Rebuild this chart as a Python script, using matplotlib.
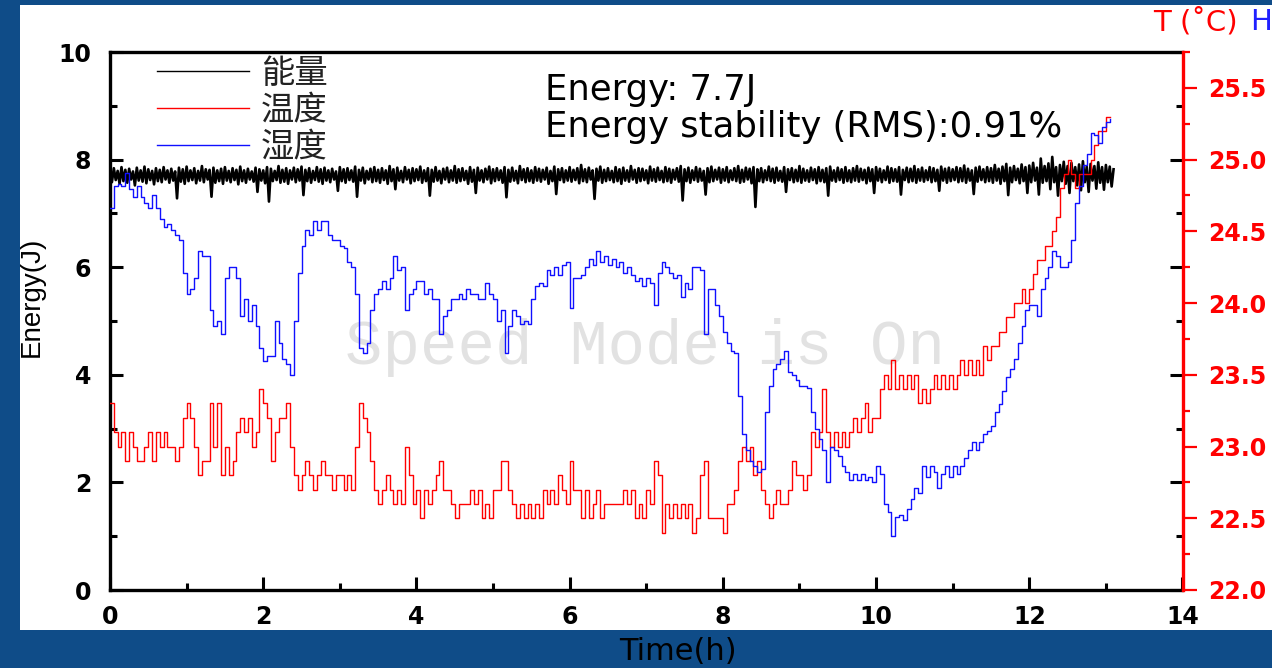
import numpy as np
import matplotlib
matplotlib.use("Agg")
import matplotlib.pyplot as plt
from matplotlib.patches import Rectangle
from matplotlib.ticker import MultipleLocator

# ---------------------------------------------------------------- data
# laser pulse energy (J), logged every 0.025 h
energy_dt = 0.025
energy_j = [
    7.80, 7.58, 7.84, 7.62, 7.79, 7.55, 7.86, 7.60, 7.81, 7.57, 7.83, 7.63, 7.78, 7.52, 7.85, 7.61, 7.80, 7.59, 7.87, 7.56,
    7.82, 7.62, 7.79, 7.54, 7.84, 7.60, 7.81, 7.58, 7.86, 7.63, 7.80, 7.57, 7.83, 7.61, 7.78, 7.28, 7.85, 7.59, 7.82, 7.55,
    7.87, 7.60, 7.80, 7.62, 7.84, 7.56, 7.79, 7.61, 7.88, 7.58, 7.82, 7.63, 7.81, 7.31, 7.85, 7.57, 7.80, 7.60, 7.83, 7.55,
    7.86, 7.61, 7.79, 7.58, 7.84, 7.62, 7.81, 7.54, 7.87, 7.60, 7.80, 7.57, 7.83, 7.63, 7.78, 7.59, 7.85, 7.40, 7.82, 7.61,
    7.80, 7.56, 7.86, 7.22, 7.83, 7.60, 7.79, 7.62, 7.88, 7.57, 7.81, 7.59, 7.84, 7.55, 7.80, 7.63, 7.85, 7.58, 7.82, 7.61,
    7.87, 7.34, 7.81, 7.60, 7.84, 7.57, 7.79, 7.62, 7.86, 7.59, 7.82, 7.55, 7.85, 7.61, 7.80, 7.58, 7.83, 7.63, 7.78, 7.42,
    7.86, 7.60, 7.82, 7.57, 7.84, 7.62, 7.80, 7.59, 7.87, 7.31, 7.81, 7.61, 7.85, 7.56, 7.79, 7.63, 7.83, 7.58, 7.86, 7.60,
    7.81, 7.57, 7.84, 7.62, 7.80, 7.55, 7.88, 7.60, 7.82, 7.45, 7.85, 7.61, 7.79, 7.58, 7.86, 7.63, 7.81, 7.56, 7.84, 7.60,
    7.82, 7.62, 7.87, 7.57, 7.80, 7.60, 7.84, 7.33, 7.81, 7.59, 7.86, 7.61, 7.79, 7.56, 7.83, 7.63, 7.85, 7.58, 7.80, 7.61,
    7.88, 7.57, 7.82, 7.60, 7.84, 7.62, 7.79, 7.55, 7.86, 7.59, 7.81, 7.38, 7.85, 7.61, 7.80, 7.58, 7.83, 7.63, 7.87, 7.56,
    7.82, 7.60, 7.84, 7.62, 7.80, 7.57, 7.86, 7.30, 7.81, 7.59, 7.85, 7.61, 7.79, 7.56, 7.88, 7.62, 7.82, 7.58, 7.84, 7.60,
    7.80, 7.57, 7.86, 7.61, 7.83, 7.59, 7.81, 7.63, 7.85, 7.55, 7.79, 7.60, 7.87, 7.36, 7.82, 7.62, 7.84, 7.58, 7.80, 7.61,
    7.86, 7.59, 7.81, 7.62, 7.84, 7.56, 7.90, 7.60, 7.82, 7.58, 7.85, 7.63, 7.80, 7.27, 7.83, 7.61, 7.87, 7.57, 7.81, 7.60,
    7.84, 7.62, 7.79, 7.58, 7.86, 7.60, 7.82, 7.55, 7.85, 7.61, 7.80, 7.59, 7.88, 7.63, 7.81, 7.57, 7.84, 7.60, 7.83, 7.62,
    7.80, 7.56, 7.87, 7.61, 7.82, 7.59, 7.85, 7.62, 7.79, 7.58, 7.86, 7.60, 7.83, 7.57, 7.81, 7.63, 7.84, 7.59, 7.88, 7.24,
    7.82, 7.60, 7.85, 7.57, 7.80, 7.62, 7.86, 7.59, 7.83, 7.61, 7.79, 7.35, 7.84, 7.58, 7.87, 7.60, 7.81, 7.63, 7.85, 7.57,
    7.82, 7.61, 7.86, 7.58, 7.80, 7.62, 7.84, 7.60, 7.88, 7.57, 7.81, 7.59, 7.85, 7.63, 7.83, 7.56, 7.86, 7.12, 7.82, 7.60,
    7.84, 7.58, 7.80, 7.62, 7.87, 7.60, 7.83, 7.57, 7.85, 7.61, 7.79, 7.59, 7.86, 7.40, 7.82, 7.62, 7.84, 7.58, 7.81, 7.60,
    7.88, 7.57, 7.83, 7.61, 7.80, 7.59, 7.85, 7.62, 7.82, 7.56, 7.86, 7.60, 7.81, 7.58, 7.84, 7.33, 7.87, 7.61, 7.80, 7.59,
    7.85, 7.62, 7.82, 7.57, 7.86, 7.60, 7.80, 7.58, 7.84, 7.61, 7.88, 7.59, 7.83, 7.62, 7.81, 7.56, 7.85, 7.60, 7.82, 7.38,
    7.86, 7.61, 7.83, 7.58, 7.80, 7.62, 7.87, 7.57, 7.84, 7.60, 7.82, 7.59, 7.86, 7.35, 7.81, 7.62, 7.85, 7.58, 7.83, 7.60,
    7.88, 7.57, 7.82, 7.61, 7.85, 7.59, 7.80, 7.62, 7.86, 7.58, 7.84, 7.60, 7.81, 7.42, 7.87, 7.61, 7.83, 7.57, 7.85, 7.60,
    7.82, 7.62, 7.86, 7.58, 7.84, 7.60, 7.89, 7.57, 7.83, 7.61, 7.80, 7.36, 7.85, 7.59, 7.87, 7.62, 7.82, 7.58, 7.86, 7.60,
    7.84, 7.57, 7.90, 7.61, 7.83, 7.55, 7.87, 7.60, 7.92, 7.34, 7.85, 7.58, 7.88, 7.62, 7.83, 7.56, 7.91, 7.60, 7.86, 7.38,
    7.89, 7.58, 7.94, 7.61, 7.85, 7.35, 8.02, 7.57, 7.88, 7.60, 7.93, 7.45, 8.05, 7.58, 7.86, 7.33, 7.90, 7.60, 7.96, 7.55,
    7.88, 7.38, 7.94, 7.60, 7.86, 7.52, 7.91, 7.43, 7.97, 7.58, 7.87, 7.40, 7.92, 7.61, 7.88, 7.46, 7.95, 7.57, 7.86, 7.44,
    7.90, 7.58, 7.87, 7.50, 7.82,
]

# room temperature (deg C) and humidity trace, logged every 0.05 h
env_dt = 0.05
temperature_c = [
    23.3, 23.1, 23.0, 23.1, 22.9, 23.1, 23.0, 22.9, 22.9, 23.0, 23.1, 22.9, 23.1, 23.0, 23.1, 23.0, 23.0, 22.9, 23.0, 23.2,
    23.3, 23.2, 23.0, 22.8, 22.9, 22.9, 23.3, 23.0, 23.3, 22.8, 23.0, 22.8, 22.9, 23.1, 23.2, 23.1, 23.2, 23.0, 23.1, 23.4,
    23.3, 23.2, 22.9, 23.1, 23.2, 23.2, 23.3, 23.0, 22.8, 22.7, 22.8, 22.9, 22.8, 22.7, 22.8, 22.9, 22.8, 22.8, 22.7, 22.8,
    22.8, 22.7, 22.8, 22.7, 23.0, 23.3, 23.2, 23.1, 22.9, 22.7, 22.6, 22.7, 22.8, 22.7, 22.6, 22.7, 22.6, 23.0, 22.8, 22.6,
    22.7, 22.5, 22.7, 22.6, 22.7, 22.8, 22.9, 22.7, 22.7, 22.6, 22.5, 22.6, 22.6, 22.6, 22.7, 22.6, 22.7, 22.5, 22.6, 22.5,
    22.7, 22.7, 22.9, 22.9, 22.7, 22.6, 22.5, 22.6, 22.5, 22.6, 22.5, 22.6, 22.5, 22.7, 22.6, 22.7, 22.6, 22.8, 22.7, 22.6,
    22.9, 22.7, 22.7, 22.5, 22.7, 22.5, 22.6, 22.7, 22.5, 22.6, 22.6, 22.6, 22.6, 22.6, 22.7, 22.6, 22.7, 22.5, 22.6, 22.5,
    22.7, 22.6, 22.9, 22.8, 22.4, 22.6, 22.5, 22.6, 22.5, 22.6, 22.5, 22.6, 22.4, 22.5, 22.8, 22.9, 22.5, 22.5, 22.5, 22.5,
    22.4, 22.6, 22.6, 22.7, 22.9, 23.0, 22.9, 23.0, 22.8, 22.9, 22.7, 22.6, 22.5, 22.6, 22.7, 22.6, 22.6, 22.7, 22.9, 22.8,
    22.8, 22.7, 22.8, 23.1, 23.0, 23.1, 23.4, 23.1, 23.0, 23.1, 23.0, 23.1, 23.0, 23.1, 23.2, 23.1, 23.2, 23.3, 23.1, 23.2,
    23.2, 23.4, 23.5, 23.4, 23.6, 23.4, 23.5, 23.4, 23.5, 23.4, 23.5, 23.3, 23.4, 23.3, 23.4, 23.5, 23.4, 23.5, 23.4, 23.5,
    23.4, 23.5, 23.6, 23.5, 23.6, 23.5, 23.6, 23.5, 23.7, 23.6, 23.7, 23.7, 23.8, 23.8, 23.9, 23.9, 24.0, 24.0, 24.1, 24.0,
    24.1, 24.2, 24.3, 24.3, 24.4, 24.4, 24.5, 24.6, 24.8, 24.9, 25.0, 24.9, 24.8, 24.9, 24.9, 24.9, 25.0, 25.1, 25.2, 25.2,
    25.3, 25.3,
]
humidity_trace = [
    7.10, 7.50, 7.55, 7.50, 7.75, 7.45, 7.30, 7.50, 7.30, 7.20, 7.10, 7.35, 7.10, 6.90, 6.75, 6.80, 6.70, 6.60, 6.50, 5.90,
    5.50, 5.60, 5.80, 6.30, 6.20, 6.20, 5.20, 4.90, 5.00, 4.75, 5.80, 6.00, 6.00, 5.80, 5.10, 5.40, 5.00, 5.30, 4.90, 4.50,
    4.25, 4.35, 4.35, 5.00, 4.60, 4.30, 4.20, 4.00, 5.00, 5.90, 6.40, 6.70, 6.60, 6.85, 6.70, 6.85, 6.85, 6.60, 6.50, 6.50,
    6.40, 6.35, 6.10, 6.00, 5.50, 4.50, 4.40, 4.60, 5.20, 5.50, 5.60, 5.75, 5.60, 5.80, 6.20, 5.95, 6.00, 5.20, 5.50, 5.60,
    5.75, 5.75, 5.50, 5.60, 5.40, 5.40, 4.75, 5.10, 5.20, 5.40, 5.40, 5.50, 5.40, 5.60, 5.50, 5.50, 5.40, 5.40, 5.70, 5.50,
    5.40, 5.00, 5.20, 4.40, 4.90, 5.20, 5.10, 4.95, 5.00, 4.95, 5.40, 5.65, 5.70, 5.65, 5.95, 5.85, 6.00, 5.85, 6.05, 6.10,
    5.25, 5.80, 5.80, 5.85, 6.00, 6.15, 6.05, 6.30, 6.10, 6.20, 6.05, 6.15, 6.00, 6.10, 5.90, 6.00, 5.85, 5.75, 5.80, 5.65,
    5.80, 5.70, 5.30, 5.90, 6.10, 6.00, 5.90, 5.80, 5.85, 5.45, 5.70, 5.60, 6.00, 6.00, 5.95, 4.75, 5.60, 5.60, 5.30, 5.10,
    4.80, 4.60, 4.45, 4.40, 3.60, 2.90, 2.60, 2.40, 2.30, 2.20, 2.25, 3.30, 3.80, 4.10, 4.20, 4.30, 4.45, 4.05, 4.00, 3.90,
    3.80, 3.80, 3.75, 3.30, 3.00, 2.80, 2.60, 2.00, 2.65, 2.60, 2.50, 2.30, 2.20, 2.05, 2.15, 2.05, 2.15, 2.05, 2.10, 2.00,
    2.30, 2.15, 1.60, 1.45, 1.00, 1.35, 1.40, 1.30, 1.50, 1.70, 1.90, 1.80, 2.30, 2.10, 2.30, 2.20, 1.90, 2.15, 2.30, 2.10,
    2.30, 2.15, 2.30, 2.45, 2.60, 2.75, 2.60, 2.75, 2.90, 2.95, 3.05, 3.30, 3.45, 3.70, 3.95, 4.10, 4.30, 4.60, 4.90, 5.20,
    5.30, 5.30, 5.10, 5.60, 5.80, 6.00, 6.30, 6.20, 6.00, 6.00, 6.10, 6.50, 7.20, 7.50, 7.90, 8.10, 8.50, 8.45, 8.30, 8.60,
    8.70, 8.75,
]

legend_labels = ["能量", "温度", "湿度"]
time_ticks = [0, 2, 4, 6, 8, 10, 12, 14]
energy_ticks = [0, 2, 4, 6, 8, 10]
temp_ticks = [22.0, 22.5, 23.0, 23.5, 24.0, 24.5, 25.0, 25.5]

t_energy = np.arange(len(energy_j)) * energy_dt
t_env = np.arange(len(temperature_c)) * env_dt

# ---------------------------------------------------------------- figure
W, H = 1272, 668
BG = "#0f4c88"
fig = plt.figure(figsize=(W / 100, H / 100), dpi=100, facecolor=BG)
fig.add_artist(Rectangle((20 / W, 1 - 630 / H), 1252 / W, 625 / H,
                         transform=fig.transFigure, facecolor="white",
                         edgecolor="none", zorder=0))

ax_left, ax_right, ax_top, ax_bottom = 110, 1182.5, 52, 590
ax = fig.add_axes([ax_left / W, 1 - ax_bottom / H,
                   (ax_right - ax_left) / W, (ax_bottom - ax_top) / H])
ax_t = ax.twinx()
ax_h = ax.twinx()

TICK_FONT = {"family": "DejaVu Sans", "weight": "bold", "size": 17}

# energy (host axes)
l_e, = ax.plot(t_energy, energy_j, color="black", lw=1.9, zorder=3)
ax.set_xlim(0, 14)
ax.set_ylim(0, 10)
ax.set_xticks(time_ticks)
ax.set_yticks(energy_ticks)
ax.xaxis.set_minor_locator(MultipleLocator(1))
ax.yaxis.set_minor_locator(MultipleLocator(1))
ax.tick_params(which="both", direction="in", top=False, right=True,
               color="black", width=2.2)
ax.tick_params(which="major", length=9.5)
ax.tick_params(which="minor", length=5)
ax.tick_params(axis="x", pad=10.5)
ax.tick_params(axis="y", pad=13.5)
for lab in ax.get_xticklabels() + ax.get_yticklabels():
    lab.set_fontproperties(TICK_FONT)
for side in ("left", "bottom", "top"):
    ax.spines[side].set_linewidth(2.4)
ax.spines["right"].set_visible(False)

# temperature (right axis, red)
l_t, = ax_t.plot(t_env, temperature_c, color="#ff0000", lw=1.0,
                 drawstyle="steps-post")
ax_t.set_ylim(22.0, 25.75)
ax_t.set_yticks(temp_ticks)
ax_t.set_yticklabels([f"{v:.1f}" for v in temp_ticks])
ax_t.yaxis.set_minor_locator(MultipleLocator(0.25))
ax_t.tick_params(which="both", direction="out", color="#ff0000",
                 width=1.6, labelcolor="#ff0000", pad=8.3)
ax_t.tick_params(which="major", length=10)
ax_t.tick_params(which="minor", length=5)
for lab in ax_t.get_yticklabels():
    lab.set_fontproperties(TICK_FONT)
for side in ("left", "bottom", "top"):
    ax_t.spines[side].set_visible(False)
ax_t.spines["right"].set_color("#ff0000")
ax_t.spines["right"].set_linewidth(2.4)

# humidity trace (hidden third scale)
l_h, = ax_h.plot(t_env, humidity_trace, color="#1010ff", lw=1.0,
                 drawstyle="steps-post")
ax_h.set_ylim(0, 10)
ax_h.set_yticks([])
for side in ax_h.spines:
    ax_h.spines[side].set_visible(False)

# watermark behind the traces
ax.text(0.499, 0.45, "Speed Mode is On", transform=ax.transAxes,
        family="Liberation Mono", fontsize=45, color="#e2e2e2",
        ha="center", va="center", zorder=0.5)

# legend
leg = ax_h.legend([l_e, l_t, l_h], legend_labels, loc="upper left",
                  bbox_to_anchor=((157 - ax_left) / (ax_right - ax_left), 0.993),
                  frameon=False, borderpad=0, borderaxespad=0,
                  handlelength=2.75, handletextpad=0.36, labelspacing=0.055,
                  prop={"family": "Noto Sans CJK SC", "size": 24})
for txt in leg.get_texts():
    txt.set_color("#222222")
for ln in leg.get_lines():
    ln.set_linewidth(1.0)

# annotations
fig.text(545 / W, 1 - 100 / H, "Energy: 7.7J", family="DejaVu Sans",
         fontsize=25.5, color="black", va="baseline", ha="left")
fig.text(545 / W, 1 - 137 / H, "Energy stability (RMS):0.91%",
         family="DejaVu Sans", fontsize=25.5, color="black",
         va="baseline", ha="left")

# axis titles
fig.text(32 / W, 1 - 297 / H, "Energy(J)", family="Liberation Sans",
         fontsize=20, rotation=90, ha="center", va="center", color="black")
fig.text(678 / W, 1 - 651 / H, "Time(h)", family="DejaVu Sans",
         fontsize=22, ha="center", va="center", color="black")
fig.text(1153 / W, 1 - 30 / H, "T (˚C)", family="DejaVu Sans",
         fontsize=21, ha="left", va="baseline", color="#ff0000")
fig.text(1250 / W, 1 - 30 / H, "H", family="DejaVu Sans",
         fontsize=21, ha="left", va="baseline", color="#2020ff")

fig.savefig("out.png", dpi=100, facecolor=fig.get_facecolor())
